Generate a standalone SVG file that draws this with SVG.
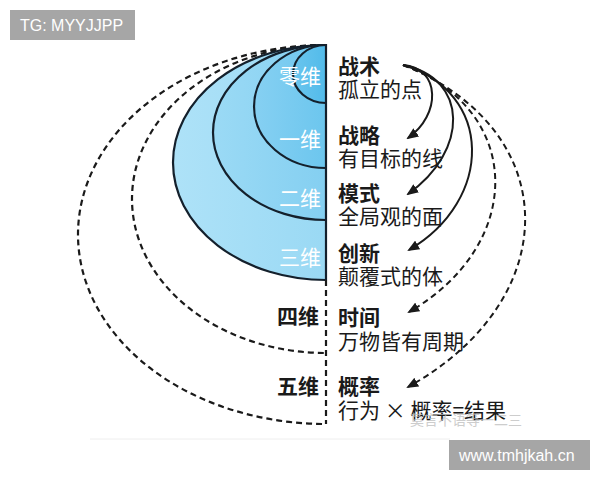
<svg xmlns="http://www.w3.org/2000/svg" width="600" height="480" viewBox="0 0 600 480">
<style>
.t{font-family:"Noto Sans CJK SC","Noto Sans",sans-serif;font-size:21px;fill:#1a1a1a}
.b{font-weight:bold}
.w{fill:#ffffff;text-anchor:end}
.k{text-anchor:end;font-weight:bold}
.sol{fill:none;stroke:#14202c;stroke-width:2.2}
.das{fill:none;stroke:#1a1a1a;stroke-width:2.2;stroke-dasharray:6 4}
.arr{fill:none;stroke:#1a1a1a;stroke-width:2}
.arrd{fill:none;stroke:#1a1a1a;stroke-width:2;stroke-dasharray:6 4}
.wm{font-family:"Liberation Sans",Arial,sans-serif;font-size:16px;fill:#ffffff}
</style>
<defs>
<linearGradient id="g4" x1="0" y1="0" x2="1" y2="0"><stop offset="0" stop-color="#aee2f8"/><stop offset="1" stop-color="#9ad9f4"/></linearGradient>
<linearGradient id="g3" x1="0" y1="0" x2="1" y2="0"><stop offset="0" stop-color="#9bdaf5"/><stop offset="1" stop-color="#84cff1"/></linearGradient>
<linearGradient id="g2" x1="0" y1="0" x2="1" y2="0"><stop offset="0" stop-color="#86d0f2"/><stop offset="1" stop-color="#6cc6ee"/></linearGradient>
<linearGradient id="g1" x1="0" y1="0" x2="1" y2="0"><stop offset="0" stop-color="#6ac5ee"/><stop offset="1" stop-color="#52bbea"/></linearGradient>
<marker id="ah" markerWidth="12" markerHeight="10" refX="10" refY="5" orient="auto" markerUnits="userSpaceOnUse">
<path d="M0,0 L12,5 L0,10 z" fill="#1a1a1a"/>
</marker>
</defs>
<rect width="600" height="480" fill="#ffffff"/>
<line x1="90" y1="439" x2="450" y2="439" stroke="#eeeeee" stroke-width="1"/>

<g id="layers">
<g id="dim5"><path class="das" d="M326,45 A248,189.5 0 0 0 326,424"/><text class="t k" x="319" y="394">五维</text></g>
<g id="dim4"><path class="das" d="M326,45 A194,154 0 0 0 326,353"/><text class="t k" x="319" y="324">四维</text></g>
<g id="dim3"><path d="M326,45 A153,117.5 0 0 0 326,280 Z" fill="url(#g4)"/><path class="sol" d="M326,45 A153,117.5 0 0 0 326,280"/><text class="t w" x="321" y="265">三维</text></g>
<g id="dim2"><path d="M326,45 A113,87.5 0 0 0 326,220 Z" fill="url(#g3)"/><path class="sol" d="M326,45 A113,87.5 0 0 0 326,220"/><text class="t w" x="321" y="206">二维</text></g>
<g id="dim1"><path d="M326,45 A72,61.5 0 0 0 326,168 Z" fill="url(#g2)"/><path class="sol" d="M326,45 A72,61.5 0 0 0 326,168"/><text class="t w" x="321" y="147">一维</text></g>
<g id="dim0"><path d="M326,45 A33,29 0 0 0 326,103 Z" fill="url(#g1)"/><path class="sol" d="M326,45 A33,29 0 0 0 326,103"/><text class="t w" x="321" y="84">零维</text></g>
<g id="axis"><line class="sol" x1="326" y1="44" x2="326" y2="280" stroke-width="2.5"/><line class="das" x1="326" y1="280" x2="326" y2="424"/></g>
</g>

<g id="labels">
<g id="n-tactic"><text class="t b" x="338" y="74">战术</text><text class="t" x="338" y="97">孤立的点</text></g>
<g id="n-strategy"><text class="t b" x="338" y="143">战略</text><text class="t" x="338" y="166">有目标的线</text></g>
<g id="n-mode"><text class="t b" x="338" y="201">模式</text><text class="t" x="338" y="224">全局观的面</text></g>
<g id="n-innov"><text class="t b" x="338" y="261">创新</text><text class="t" x="338" y="284">颠覆式的体</text></g>
<g id="n-time"><text class="t b" x="338" y="325">时间</text><text class="t" x="338" y="349">万物皆有周期</text></g>
<g id="n-prob"><text class="t b" x="338" y="394">概率</text><text class="t" x="338" y="418">行为 × 概率=结果</text></g>
</g>

<g id="connectors">
<path class="arr" d="M403,65 C441,68 441,115 408,138" marker-end="url(#ah)"/>
<path class="arr" d="M403,65 C469,78 469,151 408,194" marker-end="url(#ah)"/>
<path class="arr" d="M403,65 C494,92 494,200 409,250" marker-end="url(#ah)"/>
<path class="arrd" d="M403,65 C525,110 525,245 409,312" marker-end="url(#ah)"/>
<path class="arrd" d="M403,65 C565,130 565,300 408,387" marker-end="url(#ah)"/>
</g>

<text x="410" y="425" font-family="Noto Sans CJK SC,sans-serif" font-size="14" fill="#b8b8b8" opacity="0.7">莫言不语等一二三</text>

<g id="wm1"><rect x="10" y="10" width="125" height="30" fill="#a6a6a6"/><text class="wm" x="20" y="31">TG: MYYJJPP</text></g>
<g id="wm2"><rect x="449" y="440" width="141" height="30" fill="#a6a6a6"/><text class="wm" x="459" y="461">www.tmhjkah.cn</text></g>
</svg>
